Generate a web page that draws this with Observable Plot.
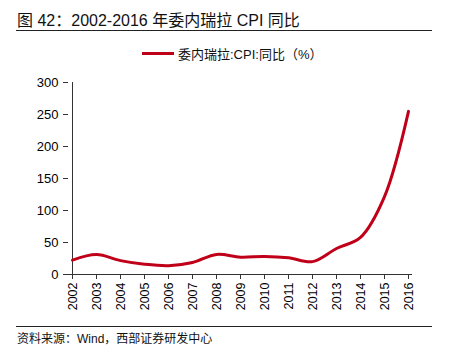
<!DOCTYPE html>
<html><head><meta charset="utf-8">
<script src="https://cdn.jsdelivr.net/npm/d3@7"></script>
<script src="https://cdn.jsdelivr.net/npm/@observablehq/plot@0.6"></script>
<style>
body{margin:0;width:450px;height:357px;position:relative;background:#fff;font-family:"Liberation Sans","Noto Sans CJK SC",sans-serif;color:#000;overflow:hidden}
#title{position:absolute;left:17px;top:7px;font-size:16px;white-space:nowrap;font-family:"Liberation Sans","Noto Sans CJK SC",sans-serif;color:#111}
#rule1{position:absolute;left:16px;top:30px;width:416px;height:1px;background:#222}
#legend{position:absolute;left:142px;top:44px;font-size:13px;white-space:nowrap;display:flex;align-items:center;color:#111}
#legend span.sw{display:inline-block;width:32px;height:3px;background:#c00018;margin-right:4px}
#chart{position:absolute;left:0;top:70px}
#rule2{position:absolute;left:16px;top:326px;width:416px;height:1px;background:#222}
#source{position:absolute;left:17px;top:329px;font-size:12px;white-space:nowrap;color:#111}
</style></head>
<body>
<div id="title">图 42：2002-2016 年委内瑞拉 CPI 同比</div>
<div id="rule1"></div>
<div id="legend"><span class="sw"></span>委内瑞拉:CPI:同比（%）</div>
<div id="chart"></div>
<div id="rule2"></div>
<div id="source">资料来源：Wind，西部证券研发中心</div>
<script>
const years = ["2002","2003","2004","2005","2006","2007","2008","2009","2010","2011","2012","2013","2014","2015","2016"];
const cpi = [22.4, 31.1, 21.7, 16.0, 13.7, 18.7, 31.4, 27.1, 28.2, 26.1, 20.1, 40.6, 58.0, 121.7, 254.9];
const yTicks = [0, 50, 100, 150, 200, 250, 300];
const seriesName = "委内瑞拉:CPI:同比（%）";

const data = years.map((y, i) => ({year: y, value: cpi[i]}));

const chart = Plot.plot({
  width: 450,
  height: 245,
  marginLeft: 68,
  marginRight: 38,
  marginTop: 12,
  marginBottom: 41,
  style: {fontFamily: "Liberation Sans, Arial, sans-serif", fontSize: "12px", color: "#000", background: "#fff"},
  x: {type: "point", domain: years, padding: 0, label: null},
  y: {domain: [0, 300], label: null},
  marks: [
    Plot.axisY({ticks: yTicks, tickSize: 5, tickPadding: 5, label: null, fontSize: 13, stroke: "#333"}),
    Plot.axisX({tickSize: 5, tickPadding: 3, tickRotate: -90, label: null, fontSize: 12.5, stroke: "#333"}),
    Plot.ruleY([0], {stroke: "#333"}),
    Plot.ruleX([years[0]], {y1: 0, y2: 300, stroke: "#333"}),
    Plot.line(data, {x: "year", y: "value", stroke: "#c00018", strokeWidth: 3, curve: "catmull-rom"})
  ]
});
document.getElementById("chart").appendChild(chart);
</script>
</body></html>
